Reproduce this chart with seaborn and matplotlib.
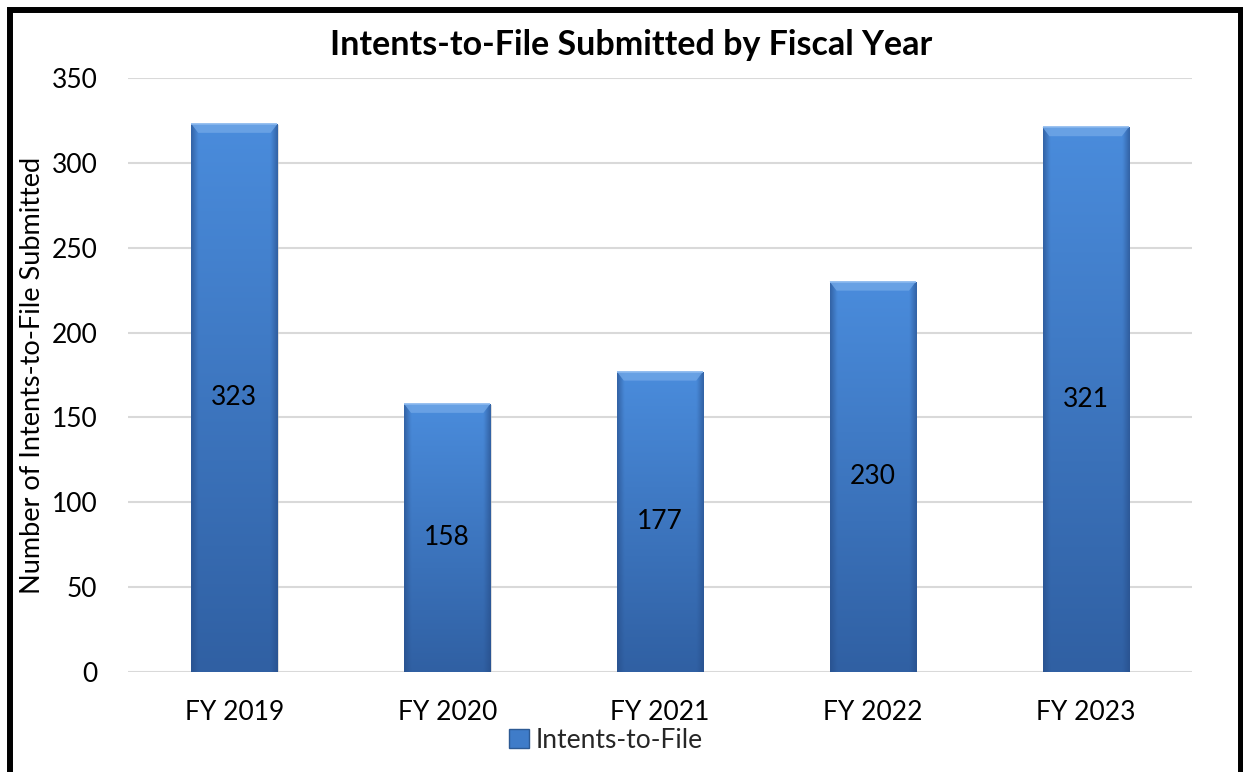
import numpy as np
import pandas as pd
import matplotlib
matplotlib.use("Agg")
import matplotlib.pyplot as plt
import seaborn as sns
from matplotlib.patches import Rectangle, Polygon, Patch

years = ["FY 2019", "FY 2020", "FY 2021", "FY 2022", "FY 2023"]
counts = [323, 158, 177, 230, 321]
series_name = "Intents-to-File"
title = "Intents-to-File Submitted by Fiscal Year"
ylabel = "Number of Intents-to-File Submitted"
yticks = [0, 50, 100, 150, 200, 250, 300, 350]

sns.set_theme(style="white")
plt.rcParams['font.family'] = ['Lato', 'DejaVu Sans']

W, H = 1243, 772
fig = plt.figure(figsize=(W / 100, H / 100), dpi=100)
ax = fig.add_axes([128 / W, 1 - 672 / H, (1192 - 128) / W, (672 - 78) / H])

df = pd.DataFrame({"year": years, "count": counts})
sns.barplot(data=df, x="year", y="count", ax=ax, color="#3f7cc9",
            width=0.405, saturation=1, zorder=3, edgecolor="none")

ax.set_ylim(0, 350)
ax.set_xlim(-0.5, len(years) - 0.5)
ax.set_yticks(yticks)
ax.yaxis.grid(True, color="#d9d9d9", linewidth=1.5, zorder=0)
ax.xaxis.grid(False)
for s in ax.spines.values():
    s.set_visible(False)
ax.axhline(0, color="#d9d9d9", linewidth=2, zorder=1)
ax.tick_params(axis="y", labelsize=19, pad=22, length=0, colors="black")
ax.tick_params(axis="x", labelsize=19, pad=20, length=0, colors="black")
ax.set_xlabel("")
ax.set_ylabel(ylabel, fontsize=19.5, color="black")
ax.yaxis.set_label_coords(-0.078, 0.5)

# gradient fill for bars
fig.canvas.draw()
px_per_data = (ax.transData.transform((0, 350))[1] - ax.transData.transform((0, 0))[1]) / 350
top_c = np.array([74, 140, 220]) / 255
bot_c = np.array([48, 96, 163]) / 255
edge_c = np.array([38, 76, 135]) / 255
nr, nc = 200, 60
v = np.linspace(0, 1, nr)[:, None]
u = np.linspace(0, 1, nc)[None, :]
base = top_c[None, None, :] * (1 - v[..., None]) + bot_c[None, None, :] * v[..., None]
edge_w = np.clip(1 - np.minimum(u, 1 - u) / 0.08, 0, 1)[..., None]
img = base * (1 - 0.6 * edge_w) + edge_c * 0.6 * edge_w
img = np.clip(img, 0, 1)

for p in list(ax.patches):
    x0, y0 = p.get_x(), p.get_y()
    w, h = p.get_width(), p.get_height()
    sh = Rectangle((x0 + 0.006, y0), w, h - 0.8, facecolor="#bfbfbf", alpha=0.5,
                   edgecolor="none", zorder=2)
    ax.add_patch(sh)
    im = ax.imshow(img, extent=(x0, x0 + w, y0, y0 + h), aspect="auto",
                   origin="upper", zorder=4, interpolation="bilinear")
    im.set_clip_path(p)
    bev = 9 / px_per_data
    bx = w * 0.08
    poly = Polygon([(x0, y0 + h), (x0 + w, y0 + h), (x0 + w - bx, y0 + h - bev),
                    (x0 + bx, y0 + h - bev)], closed=True,
                   facecolor="#6ea5e6", edgecolor="none", alpha=0.85, zorder=5)
    ax.add_patch(poly)
    ax.plot([x0, x0 + w], [y0 + h, y0 + h], color="#8ab8ee", lw=1.2, zorder=6,
            solid_capstyle="butt")

for i, c in enumerate(counts):
    ax.text(i, c / 2, str(c), ha="center", va="center", fontsize=19,
            color="black", zorder=7)

fig.text(631 / W, 1 - 45 / H, title, ha="center", va="center",
         fontsize=24.5, fontweight="bold", color="black")

handle = Patch(facecolor="#3f7cc9", edgecolor="#2d5a94", linewidth=1)
fig.legend([handle], [series_name], loc="center", bbox_to_anchor=(606 / W, 1 - 740 / H),
           frameon=False, fontsize=19, handlelength=0.75, handleheight=0.75,
           handletextpad=0.25, borderpad=0)

border = Rectangle((10 / W, -0.05), (1241 - 10) / W, 1 - 10 / H + 0.05,
                   transform=fig.transFigure, fill=False, edgecolor="black",
                   linewidth=4.3, zorder=10)
fig.patches.append(border)

fig.savefig("out.png", dpi=100)
